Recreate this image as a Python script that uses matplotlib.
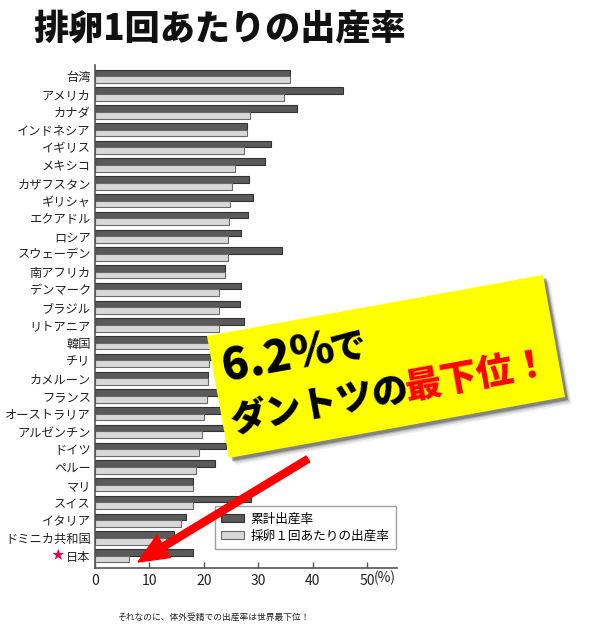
import matplotlib
matplotlib.use('Agg')
import matplotlib.pyplot as plt
from matplotlib.patches import Polygon, FancyArrow, Patch
from matplotlib.transforms import Affine2D
import numpy as np

plt.rcParams['font.family'] = ['Noto Sans CJK JP', 'DejaVu Sans']

countries = ['台湾', 'アメリカ', 'カナダ', 'インドネシア', 'イギリス', 'メキシコ',
             'カザフスタン', 'ギリシャ', 'エクアドル', 'ロシア', 'スウェーデン',
             '南アフリカ', 'デンマーク', 'ブラジル', 'リトアニア', '韓国', 'チリ',
             'カメルーン', 'フランス', 'オーストラリア', 'アルゼンチン', 'ドイツ',
             'ペルー', 'マリ', 'スイス', 'イタリア', 'ドミニカ共和国', '日本']
cumulative = [35.8, 45.6, 37.1, 27.9, 32.3, 31.2, 28.3, 29.1, 28.2, 26.8, 34.3,
              23.8, 26.9, 26.6, 27.4, 26.0, 25.0, 20.8, 24.5, 25.5, 26.0, 24.0,
              22.1, 18.1, 28.7, 16.7, 14.5, 18.1]
per_retrieval = [35.8, 34.7, 28.5, 27.9, 27.4, 25.7, 25.1, 24.9, 24.6, 24.5, 24.4,
                 23.8, 22.8, 22.8, 22.8, 21.1, 21.0, 20.7, 20.6, 20.0, 19.7, 19.2,
                 18.6, 18.1, 18.1, 15.8, 13.0, 6.2]
xticks = [0, 10, 20, 30, 40, 50]
xtick_labels = ['0', '10', '20', '30', '40', '50']
unit_label = '(%)'
title = '排卵1回あたりの出産率'
legend_labels = ['累計出産率', '採卵１回あたりの出産率']
callout_line1 = ['6.2%', 'で']
callout_line2 = ['ダントツの', '最下位！']
footnote = 'それなのに、体外受精での出産率は世界最下位！'

W, H = 600, 639
fig = plt.figure(figsize=(W / 100, H / 100), dpi=100)
px = Affine2D().scale(1 / W, -1 / H).translate(0, 1) + fig.transFigure

ax = fig.add_axes([95 / W, 1 - 568 / H, (397 - 95) / W, (568 - 65) / H])
y = np.arange(len(countries))
h = 0.375
ax.barh(y - h / 2, cumulative, height=h, color='#5a5a5a', edgecolor='#333333', linewidth=0.8)
ax.barh(y + h / 2, per_retrieval, height=h, color='#d9d9d9', edgecolor='#6a6a6a', linewidth=0.8)
ax.set_ylim(len(countries) - 1 + 0.69, -0.64)
ax.set_xlim(0, 55.5)
ax.set_yticks(y, countries)
ax.set_xticks(xticks, xtick_labels)
ax.tick_params(axis='y', length=0, pad=3, labelsize=8.8, labelcolor='#222222')
ax.tick_params(axis='x', direction='in', length=4, width=1, color='#555555',
               pad=4, labelsize=10, labelcolor='#222222')
for s in ['top', 'right']:
    ax.spines[s].set_visible(False)
for s in ['left', 'bottom']:
    ax.spines[s].set_color('#555555')
    ax.spines[s].set_linewidth(1.2)

handles = [Patch(facecolor='#5a5a5a', edgecolor='#333333', linewidth=0.8),
           Patch(facecolor='#d9d9d9', edgecolor='#6a6a6a', linewidth=0.8)]
leg = ax.legend(handles, legend_labels, loc='upper left',
                bbox_to_anchor=(215 / W, 1 - 506 / H), bbox_transform=fig.transFigure,
                borderaxespad=0, fontsize=9.1, frameon=True, fancybox=False,
                edgecolor='#888888', handlelength=1.8, handleheight=0.55,
                labelspacing=0.35, borderpad=0.5, handletextpad=0.5)
leg.get_frame().set_linewidth(1.0)

fig.text(374, 578, unit_label, transform=px, ha='left', va='center',
         fontsize=10, color='#222222')
fig.text(58, 556, '★', transform=px, ha='center', va='center',
         fontsize=9, color='#e6004c')

fig.text(33, 28, title, transform=px, ha='left', va='center',
         fontsize=25.3, fontweight='heavy', color='#111111')
fig.text(117, 617, footnote, transform=px, ha='left', va='center',
         fontsize=6.3, color='#222222')

# callout box
box = np.array([[207, 336], [543, 275], [565, 397], [229, 458]], dtype=float)
for off, a in [(7, 0.06), (5.5, 0.1), (4, 0.18), (3, 0.25)]:
    fig.add_artist(Polygon(box + off, closed=True, facecolor='black', alpha=a,
                           edgecolor='none', transform=px, zorder=5))
fig.add_artist(Polygon(box, closed=True, facecolor='#ffff00', edgecolor='none',
                       transform=px, zorder=6))
ang = 10.3
kw = dict(transform=px, rotation=ang, rotation_mode='anchor', ha='left',
          va='baseline', fontweight='black', zorder=7)
fig.text(225, 382, callout_line1[0], fontsize=32, color='black', **kw)
fig.text(332, 362, callout_line1[1], fontsize=26, color='black', **kw)
fig.text(232, 432, callout_line2[0], fontsize=26, color='black', **kw)
fig.text(407, 400, callout_line2[1], fontsize=26.5, color='#ff0000', **kw)

fig.add_artist(FancyArrow(308, 459, 138 - 308, 562 - 459, width=7, head_width=26,
                          head_length=30, length_includes_head=True,
                          color='#ff0000', transform=px, zorder=8))

fig.savefig('out.png', dpi=100)
